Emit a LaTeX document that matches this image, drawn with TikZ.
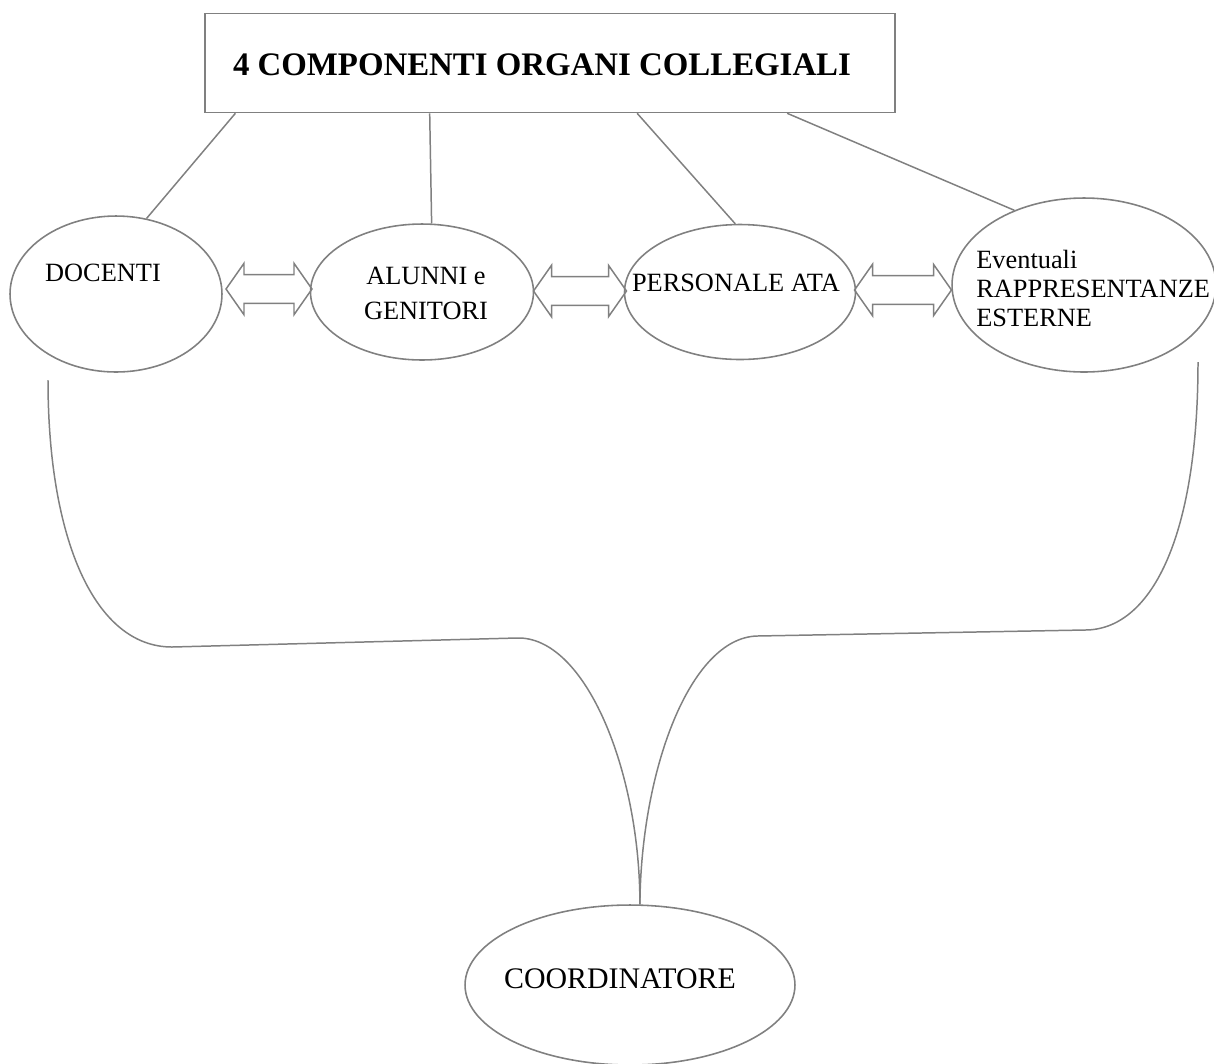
\documentclass[tikz,border=0pt]{standalone}
\usepackage{fontspec}
\setmainfont{Liberation Serif}
\usepackage{tikz}
\usetikzlibrary{shapes.geometric,shapes.arrows,calc}
\definecolor{linegray}{RGB}{128,128,128}

\begin{document}
\begin{tikzpicture}
    [x=0.02cm,y=-0.02cm,
     bubble/.style={draw=linegray,line width=0.9pt,ellipse,inner sep=0pt},
     wire/.style={draw=linegray,line width=0.85pt},
     twin/.style={draw=linegray,line width=0.85pt,double arrow,inner xsep=0pt,inner ysep=7.7pt,
       double arrow head extend=6.5pt,double arrow tip angle=110},
     txt/.style={font=\fontsize{15}{20}\selectfont,align=center,inner sep=0pt}]
    \useasboundingbox (0,0) rectangle (1214,1063);
    % title box
    \node[draw=linegray,line width=0.9pt,minimum width=13.8cm,minimum height=1.98cm] (top) at (550,63) {};
    \node[font=\bfseries\fontsize{18.7}{22}\selectfont,inner sep=0pt] (toptxt) at (542,65) {4 COMPONENTI ORGANI COLLEGIALI};
    % the four groups
    \node[bubble,minimum width=4.24cm,minimum height=3.12cm] (doc) at (116,294) {};
    \node[bubble,minimum width=4.46cm,minimum height=2.72cm] (alu) at (422,292) {};
    \node[bubble,minimum width=4.62cm,minimum height=2.7cm] (ata) at (740,292) {};
    \node[bubble,minimum width=5.28cm,minimum height=3.48cm] (est) at (1084,285) {};
    \node[bubble,minimum width=6.6cm,minimum height=3.2cm] (coo) at (630,985) {};
    \node[txt] (doctxt) at (103,273) {DOCENTI};
    \node[txt] (alutxt) at (426,293) {ALUNNI e\\GENITORI};
    \node[txt] (atatxt) at (736,283) {PERSONALE ATA};
    \node[txt,align=left,anchor=west,font=\fontsize{15}{16.5}\selectfont] (esttxt) at (976,288) {Eventuali\\RAPPRESENTANZE\\ESTERNE};
    \node[txt,font=\fontsize{17}{20}\selectfont] (cootxt) at (620,979) {COORDINATORE};
    % box to groups
    \draw[wire] ($(top.south west)!0.045!(top.south east)$) -- (doc.68);
    \draw[wire] ($(top.south west)!0.326!(top.south east)$) -- (alu.82);
    \draw[wire] ($(top.south west)!0.626!(top.south east)$) -- (ata.94);
    \draw[wire] ($(top.south west)!0.843!(top.south east)$) -- (est.133);
    % hollow arrows between groups
    \node[twin,minimum height=1.72cm] (a1) at (269,289) {};
    \node[twin,minimum height=1.86cm] (a2) at (580,291) {};
    \node[twin,minimum height=1.94cm] (a3) at (903,290) {};
    % brace down to the coordinator
    \coordinate (lstart) at (48,380);
    \coordinate (rstart) at (1198,362);
    \draw[wire] (lstart) .. controls (48,540) and (95,647) .. (172,647) -- (517,638)
        .. controls (585,636) and (640,770) .. (coo.83);
    \draw[wire] (rstart) .. controls (1198,540) and (1150,630) .. (1085,630) -- (757,636)
        .. controls (690,638) and (641,770) .. (coo.83);
\end{tikzpicture}
\end{document}
